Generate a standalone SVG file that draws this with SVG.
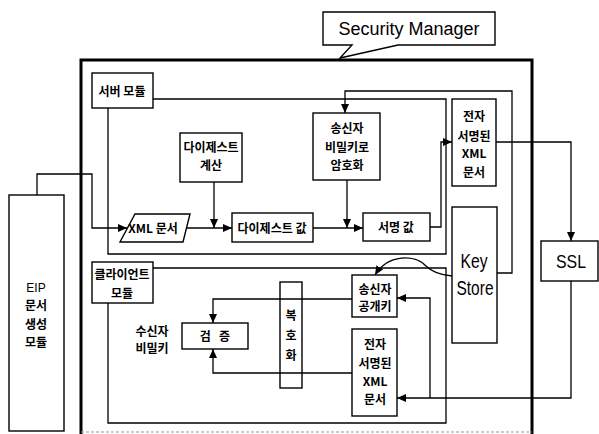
<svg xmlns="http://www.w3.org/2000/svg" width="599" height="434" viewBox="0 0 599 434">
<style>
  .box { fill: none; stroke: #000; stroke-width: 1.4; }
  .ln { fill: none; stroke: #000; stroke-width: 1.3; }
  .arr { fill: none; stroke: #000; stroke-width: 1.3; marker-end: url(#ah); }
  .kt { font-family: "Noto Sans CJK KR", "Liberation Sans", sans-serif; font-size: 12px; font-weight: bold; text-anchor: middle; fill: #000; }
  .et { font-family: "Liberation Sans", "Noto Sans CJK KR", sans-serif; text-anchor: middle; fill: #000; }
</style>
<defs>
  <marker id="ah" markerWidth="10" markerHeight="8" refX="9" refY="4" orient="auto" markerUnits="userSpaceOnUse">
    <path d="M0,0 L9,4 L0,8 Z" fill="#000"/>
  </marker>
</defs>
<rect width="599" height="434" fill="#fff"/>

<g id="security-manager">
  <path d="M323,12 H495 V45 H398 L340,58 L352,45 H323 Z" fill="#fff" stroke="#000" stroke-width="1.4"/>
  <text class="et" x="409" y="35" font-size="18">Security Manager</text>
  <path d="M81,434 V60 H532 V434" fill="none" stroke="#000" stroke-width="3"/>
  <path d="M81,432 H532" fill="none" stroke="#999" stroke-width="1" stroke-dasharray="3,2"/>
</g>

<g id="server-module">
  <path class="ln" d="M153,99 H446 V254 H108 V108"/>
  <rect class="box" x="92" y="73" width="61" height="35"/>
  <text class="kt" x="122" y="96">서버 모듈</text>
</g>

<g id="client-module">
  <path class="ln" d="M153,268 H446 V423 H108 V303"/>
  <rect class="box" x="92" y="262" width="61" height="41"/>
  <text class="kt" x="122" y="279">클라이언트</text>
  <text class="kt" x="122" y="298">모듈</text>
</g>

<g id="eip">
  <rect class="box" x="9" y="195" width="55" height="236"/>
  <text class="et" x="36" y="292" font-size="12">EIP</text>
  <text class="kt" x="36" y="310">문서</text>
  <text class="kt" x="36" y="329">생성</text>
  <text class="kt" x="36" y="347">모듈</text>
</g>

<g id="digest-calc">
  <rect class="box" x="180" y="133" width="62" height="49"/>
  <text class="kt" x="211" y="152">다이제스트</text>
  <text class="kt" x="211" y="170">계산</text>
</g>

<g id="xml-doc">
  <path class="box" d="M135,214 H190 L183,242 H120 Z"/>
  <text class="kt" x="153" y="233">XML 문서</text>
</g>

<g id="digest-value">
  <rect class="box" x="232" y="213" width="81" height="29"/>
  <text class="kt" x="272" y="233">다이제스트 값</text>
</g>

<g id="encrypt">
  <rect class="box" x="313" y="113" width="67" height="67"/>
  <text class="kt" x="347" y="133">송신자</text>
  <text class="kt" x="347" y="152">비밀키로</text>
  <text class="kt" x="347" y="170">암호화</text>
</g>

<g id="sign-value">
  <rect class="box" x="363" y="213" width="67" height="28"/>
  <text class="kt" x="396" y="232">서명 값</text>
</g>

<g id="signed-xml-server">
  <rect class="box" x="452" y="99" width="44" height="87"/>
  <text class="kt" x="474" y="121">전자</text>
  <text class="kt" x="474" y="141">서명된</text>
  <text class="kt" x="474" y="158">XML</text>
  <text class="kt" x="474" y="177">문서</text>
</g>

<g id="key-store">
  <rect class="box" x="452" y="207" width="45" height="136"/>
  <text class="et" x="474" y="268" font-size="20" textLength="27" lengthAdjust="spacingAndGlyphs">Key</text>
  <text class="et" x="475" y="295" font-size="20" textLength="37" lengthAdjust="spacingAndGlyphs">Store</text>
</g>

<g id="ssl">
  <rect class="box" x="541" y="241" width="57" height="40"/>
  <text class="et" x="571" y="268" font-size="18" textLength="30" lengthAdjust="spacingAndGlyphs">SSL</text>
</g>

<g id="public-key">
  <rect class="box" x="352" y="275" width="45" height="42"/>
  <text class="kt" x="375" y="294">송신자</text>
  <text class="kt" x="375" y="311">공개키</text>
</g>

<g id="signed-xml-client">
  <rect class="box" x="352" y="329" width="45" height="87"/>
  <text class="kt" x="375" y="349">전자</text>
  <text class="kt" x="375" y="368">서명된</text>
  <text class="kt" x="375" y="386">XML</text>
  <text class="kt" x="375" y="404">문서</text>
</g>

<g id="decrypt">
  <rect class="box" x="280" y="282" width="22" height="106"/>
  <text class="kt" x="291" y="320">복</text>
  <text class="kt" x="291" y="340">호</text>
  <text class="kt" x="291" y="360">화</text>
</g>

<g id="verify">
  <rect class="box" x="182" y="323" width="66" height="26"/>
  <text class="kt" x="215" y="341" xml:space="preserve">검   증</text>
  <text class="kt" x="152" y="336">수신자</text>
  <text class="kt" x="152" y="353">비밀키</text>
</g>

<g id="connectors">
  <path class="arr" d="M37,195 V174 H92 V228 H127"/>
  <path class="arr" d="M186,228 H232"/>
  <path class="arr" d="M214,182 V228"/>
  <path class="arr" d="M313,228 H363"/>
  <path class="arr" d="M347,180 V228"/>
  <path class="arr" d="M430,227 H441 V142 H452"/>
  <path class="arr" d="M497,273 H512 V91 H345 V113"/>
  <path class="arr" d="M496,142 H571 V241"/>
  <path class="arr" d="M571,281 V398 H397"/>
  <path class="arr" d="M430,398 V298 H397"/>
  <path class="arr" d="M452,276 C440,275 432,272 426,266 C415,254 388,254 375,275"/>
  <path class="arr" d="M352,299 H213 V323"/>
  <path class="arr" d="M352,373 H213 V349"/>
</g>
</svg>
